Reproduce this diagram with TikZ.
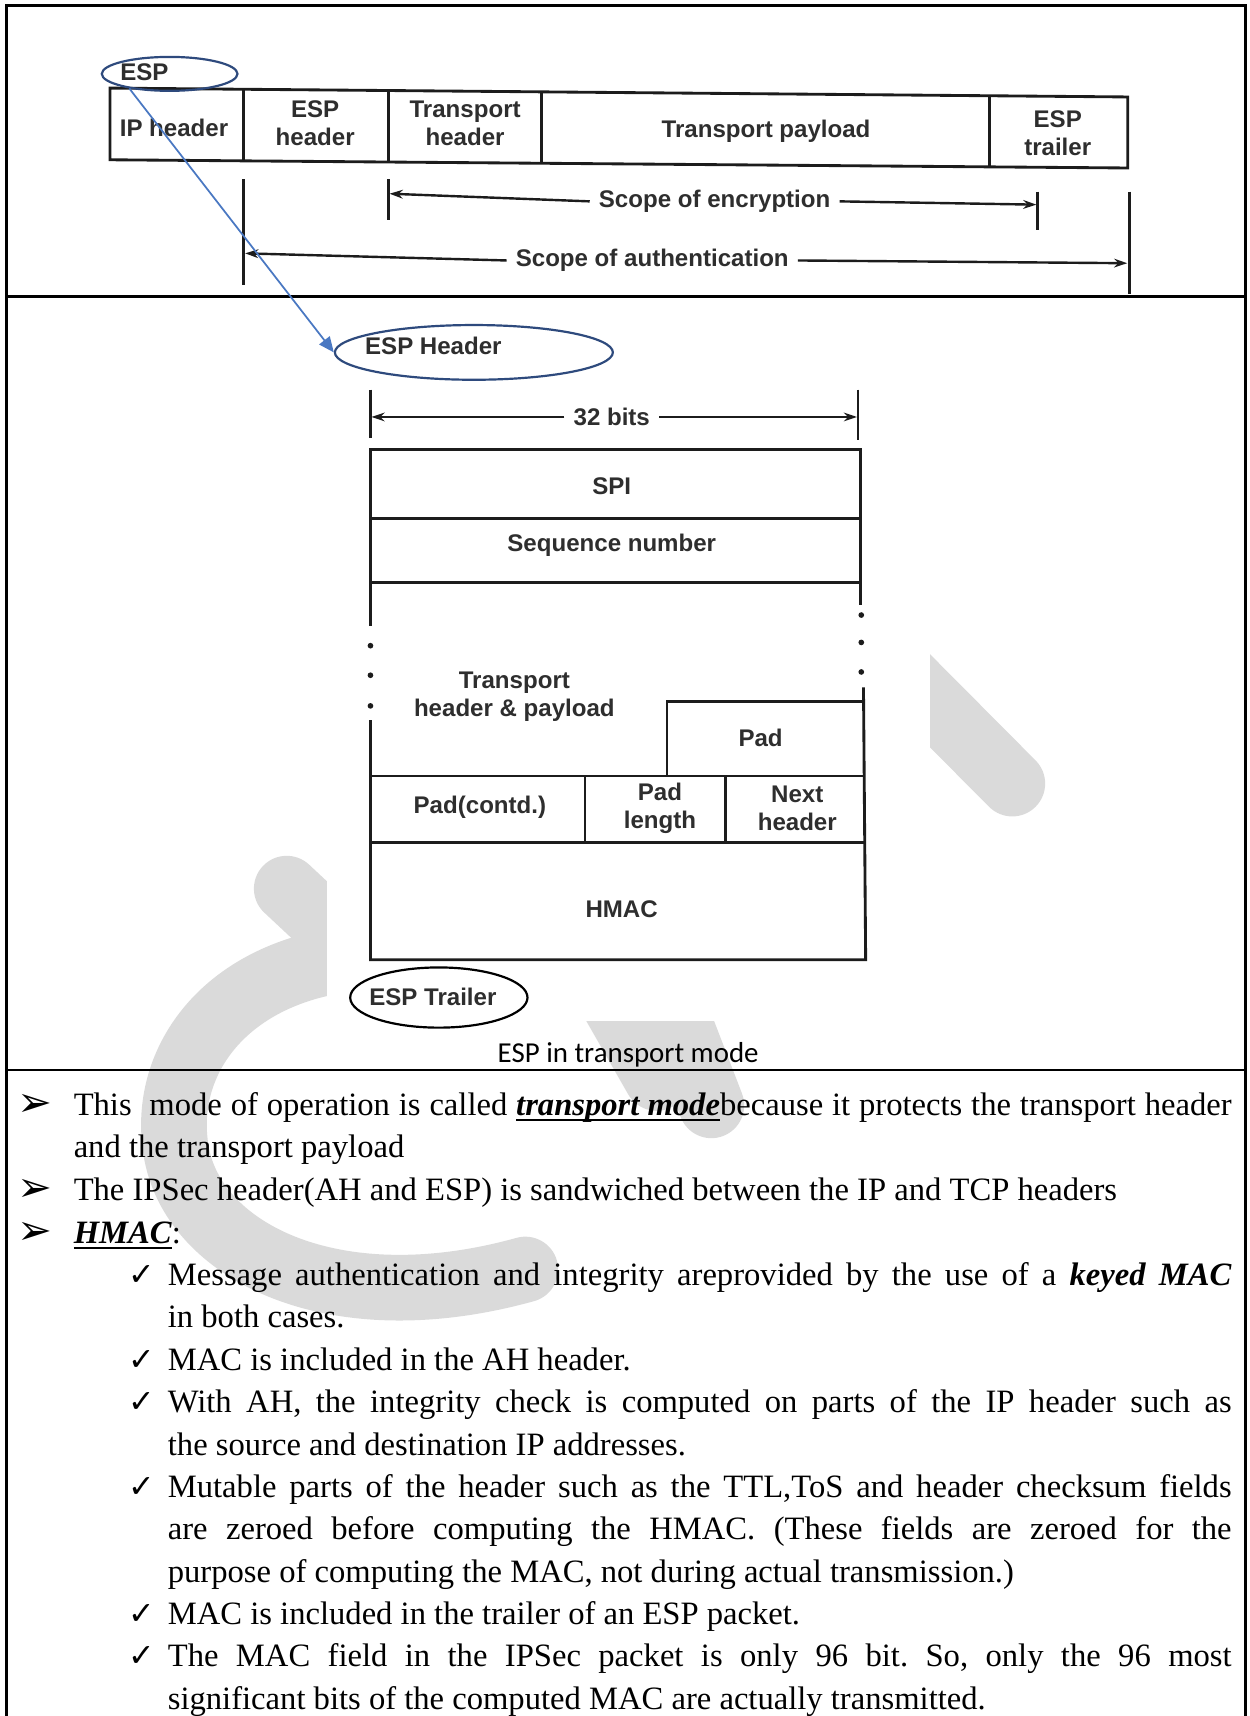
\documentclass[tikz,border=0pt]{standalone}
\usepackage{fontspec}
\setmainfont{Liberation Serif}
\newfontfamily\diagfont{Liberation Sans}
\newfontfamily\capfont{Carlito}
\newfontfamily\symfont{DejaVu Sans}
\usetikzlibrary{arrows.meta,shapes.geometric}
\definecolor{ovalblue}{HTML}{2E4A7D}
\definecolor{linkblue}{HTML}{4A78C2}
\definecolor{markgray}{HTML}{DADADA}
\definecolor{ink}{HTML}{1C1C1C}
\frenchspacing
% thick underline used for the emphasised terms
\newcommand{\thickul}[1]{\setbox0\hbox{#1}\rlap{\rule[-2.6pt]{\wd0}{1pt}}\box0}
% a line of text spread to a given width (justified line)
\newcommand{\jline}[2]{\makebox[#1][s]{#2}}
\begin{document}
\begin{tikzpicture}[x=0.5pt,y=-0.5pt,
  frame/.style={line width=1pt, draw=black},
  scan/.style={line width=1.3pt, draw=ink},
  lbl/.style={font=\diagfont\bfseries\fontsize{11}{12.8}\selectfont, text=ink!92, inner sep=0pt, align=center},
  scopearr/.style={line width=1.1pt, draw=ink, -{Stealth[length=6pt,width=4pt]}},
  dimarr/.style={line width=1.1pt, draw=ink, -{Stealth[length=6pt,width=4pt]}},
  body/.style={font=\fontsize{14.9}{19.4}\selectfont, anchor=base west, inner sep=0pt},
  bulletsym/.style={font=\symfont\fontsize{19}{19}\selectfont, anchor=base west, inner sep=0pt},
  checksym/.style={font=\symfont\fontsize{14.5}{14.5}\selectfont, anchor=base west, inner sep=0pt},
  wm/.style={line width=30pt, draw=markgray, line cap=round},
  oval/.style={ellipse, draw=ovalblue, line width=1pt, inner sep=0pt},
  dotmark/.style={fill=ink}
]
\useasboundingbox (0,0) rectangle (1142,1568);

% ---------- watermark strokes (behind everything) ----------
\draw[wm] (262,812) -- (340,885);
\draw[wm] (330,875) .. controls (210,885) and (150,965) .. (160,1045)
          .. controls (170,1140) and (300,1210) .. (480,1160);
\draw[wm] (760,550) -- (925,716);
\draw[wm] (540,880) -- (600,985);
\draw[wm] (600,880) -- (650,1010);

% opaque area of the scanned figure
\fill[white] (299,283) rectangle (850,933);

% ---------- table frame ----------
\draw[frame] (6,1568) -- (6,5) -- (1138,5) -- (1138,1568);
\draw[frame] (6,271) -- (1138,271);
\draw[frame] (6,978) -- (1138,978);

% ---------- packet layout (top cell) ----------
\draw[scan] (100.5,80.5) -- (1030.5,88.6) -- (1030.5,153.5) -- (100.5,146) -- cycle;
\draw[scan] (222.5,81.6) -- (222.5,147);
\draw[scan] (355,82.7) -- (355,148.1);
\draw[scan] (494.5,83.9) -- (494.5,149.2);
\draw[scan] (904.5,87.5) -- (904.5,152.5);

\node[lbl] (fIP)  at (159,117) {IP header};
\node[lbl] (fESP) at (288,113) {ESP\\header};
\node[lbl] (fTH)  at (425,113) {Transport\\header};
\node[lbl] (fTP)  at (700,120) {Transport payload};
\node[lbl] (fTR)  at (966.5,122) {ESP\\trailer};

% scope of encryption
\draw[scan] (355,164) -- (355,201);
\draw[scan] (948,175) -- (948,210);
\coordinate (encL) at (356,177);
\coordinate (encR) at (947,187);
\node[lbl] (encTxt) at (653,184) {Scope of encryption};
\draw[scopearr] ([xshift=-4pt]encTxt.west) -- (encL);
\draw[scopearr] ([xshift=4pt]encTxt.east) -- (encR);

% scope of authentication
\draw[scan] (222.5,164) -- (222.5,260);
\draw[scan] (1032,175) -- (1032,269);
\coordinate (authL) at (224,231.5);
\coordinate (authR) at (1030,240.5);
\node[lbl] (authTxt) at (596,238) {Scope of authentication};
\draw[scopearr] ([xshift=-4pt]authTxt.west) -- (authL);
\draw[scopearr] ([xshift=4pt]authTxt.east) -- (authR);

% ESP marker and link to the header figure
\node[oval, minimum width=62pt, minimum height=15.5pt] (espTop) at (155,67.5) {};
\node[lbl] (espTopTxt) at (132,66) {ESP};
\node[oval, minimum width=127pt, minimum height=25pt] (espHdr) at (433,322) {};
\node[lbl] (espHdrTxt) at (396,316) {ESP Header};
\draw[linkblue, line width=0.8pt, -{Triangle[length=7pt,width=6pt]}] (espTop.200) -- (espHdr.west);

% ---------- ESP packet format (middle cell) ----------
\draw[scan] (338.5,356) -- (338.5,400);
\draw[scan] (784,356) -- (784,402);
\node[lbl, fill=white, inner xsep=0pt] (bits) at (559,381) {32 bits};
\coordinate (bitsL) at (339.5,381);
\coordinate (bitsR) at (783,381);
\draw[dimarr] ([xshift=-4pt]bits.west) -- (bitsL);
\draw[dimarr] ([xshift=4pt]bits.east) -- (bitsR);

\draw[scan] (338.5,572) -- (338.5,411) -- (786,411) -- (786,553);
\draw[scan] (338.5,473.5) -- (786,473.5);
\draw[scan] (338.5,532) -- (786,532);
\foreach \yy in {590,617,645} \fill[dotmark] (338.5,\yy) circle (1.3pt);
\foreach \yy in {562,587,614} \fill[dotmark] (787,\yy) circle (1.3pt);
\draw[scan] (338.5,658) -- (338.5,877) -- (791,877) -- (789,628);
\draw[scan] (609.5,709) -- (609.5,641) -- (789,641);
\draw[scan] (338.5,709) -- (789,709);
\draw[scan] (338.5,770) -- (790,770);
\draw[scan] (534.5,709) -- (534.5,770);
\draw[scan] (663,709) -- (663,770);

\node[lbl] (spi) at (559,444.5) {SPI};
\node[lbl] (seq) at (559,498) {Sequence number};
\node[lbl] (tpl) at (470,637) {Transport\\header \& payload};
\node[lbl] (pad) at (695,674) {Pad};
\node[lbl] (padc) at (438.5,738) {Pad(contd.)};
\node[lbl] (padl) at (603,739) {Pad\\length};
\node[lbl] (nxt) at (728.5,739) {Next\\header};
\node[lbl] (hmac) at (568,831) {HMAC};

\node[ellipse, draw=black, line width=1pt, minimum width=81pt, minimum height=27.5pt, inner sep=0pt] (espTrl) at (401,911.5) {};
\node[lbl] (espTrlTxt) at (395.5,911) {ESP Trailer};

\node[font=\capfont\fontsize{13.2}{15}\selectfont, inner sep=0pt] (caption) at (574,964) {ESP in transport mode};

% ---------- explanatory text (bottom cell) ----------
\node[bulletsym] (b1) at (16,1020) {➢};
\node[body] (t1a) at (67,1019) {\jline{529pt}{This\ \ mode of operation is called \thickul{\textbf{\textit{transport mode}}}because it protects the transport header}};
\node[body] (t1b) at (67,1058) {and the transport payload};
\node[bulletsym] (b2) at (16,1098) {➢};
\node[body] (t2) at (67,1097) {The IPSec header(AH and ESP) is sandwiched between the IP and TCP headers};
\node[bulletsym] (b3) at (16,1137) {➢};
\node[body] (t3) at (67,1136) {\thickul{\textbf{\textit{HMAC}}}:};

\node[checksym] (c1) at (117,1175) {✓};
\node[body] (s1a) at (153,1175) {\jline{486pt}{Message authentication and integrity areprovided by the use of a \textbf{\textit{keyed MAC}}}};
\node[body] (s1b) at (153,1213) {in both cases.};
\node[checksym] (c2) at (117,1252) {✓};
\node[body] (s2) at (153,1252) {MAC is included in the AH header.};
\node[checksym] (c3) at (117,1291) {✓};
\node[body] (s3a) at (153,1291) {\jline{486pt}{With AH, the integrity check is computed on parts of the IP header such as}};
\node[body] (s3b) at (153,1330) {the source and destination IP addresses.};
\node[checksym] (c4) at (117,1368) {✓};
\node[body] (s4a) at (153,1368) {\jline{486pt}{Mutable parts of the header such as the TTL,ToS and header checksum fields}};
\node[body] (s4b) at (153,1407) {\jline{486pt}{are zeroed before computing the HMAC. (These fields are zeroed for the}};
\node[body] (s4c) at (153,1446) {purpose of computing the MAC, not during actual transmission.)};
\node[checksym] (c5) at (117,1484) {✓};
\node[body] (s5) at (153,1484) {MAC is included in the trailer of an ESP packet.};
\node[checksym] (c6) at (117,1523) {✓};
\node[body] (s6a) at (153,1523) {\jline{486pt}{The MAC field in the IPSec packet is only 96 bit. So, only the 96 most}};
\node[body] (s6b) at (153,1562) {significant bits of the computed MAC are actually transmitted.};
\end{tikzpicture}
\end{document}
